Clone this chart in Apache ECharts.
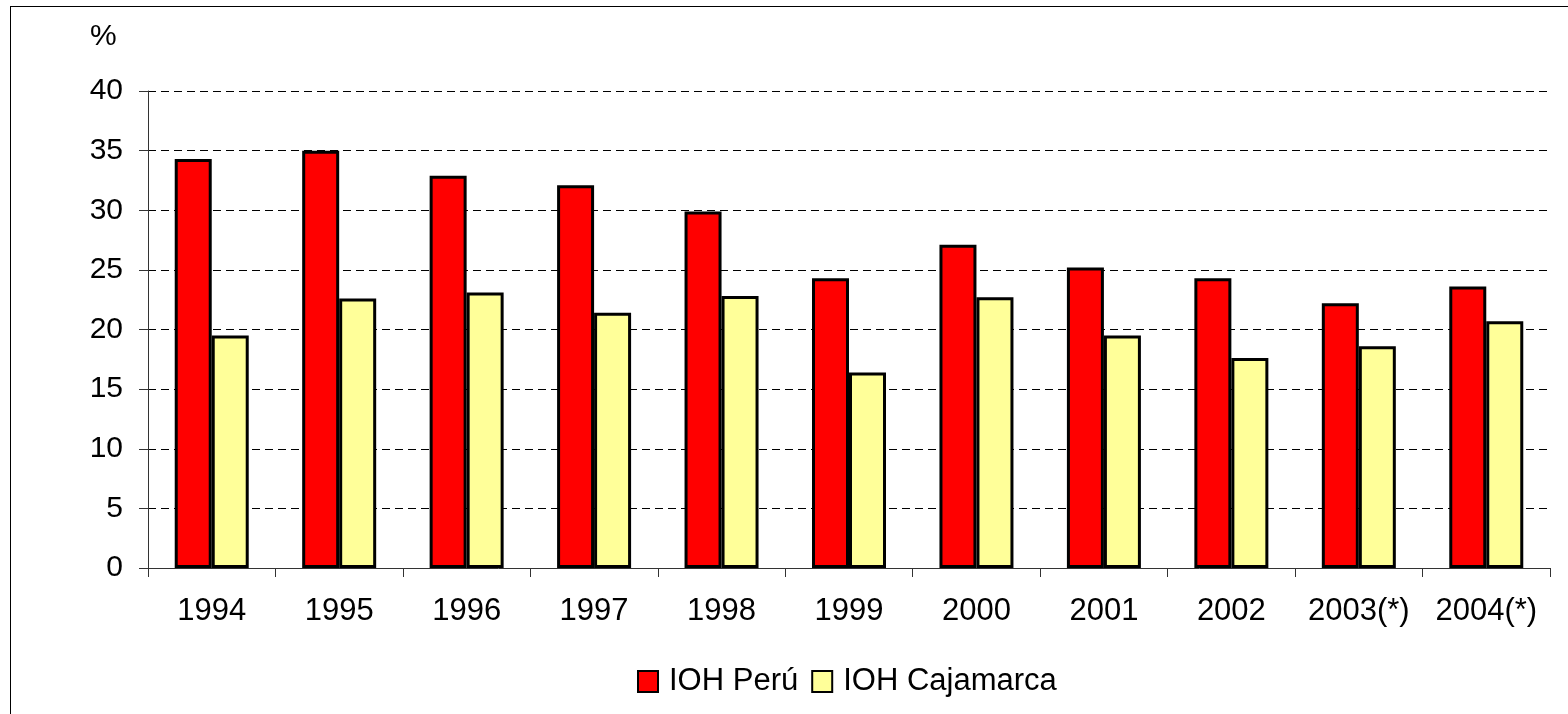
<!DOCTYPE html>
<html>
<head>
<meta charset="utf-8">
<script src="https://cdn.jsdelivr.net/npm/echarts@6/dist/echarts.min.js"></script>
<style>
    html, body { margin: 0; padding: 0; background: #fff; }
    #main { width: 1568px; height: 714px; position: relative; }
    /* marco del gráfico (solo borde izq. y superior visibles) */
    #frame { position: absolute; left: 10px; top: 6px; width: 1600px; height: 800px;
             border-left: 1px solid #000; border-top: 1px solid #000; pointer-events: none; }
</style>
</head>
<body>
<div id="main"></div>
<div id="frame"></div>
<script>
    /* datos */
    var years = ['1994', '1995', '1996', '1997', '1998', '1999', '2000', '2001', '2002', '2003(*)', '2004(*)'];
    var ohPeru = [34.3, 35.0, 32.9, 32.1, 29.9, 24.3, 27.1, 25.2, 24.3, 22.2, 23.6];
    var ohCajamarca = [19.5, 22.6, 23.1, 21.4, 22.8, 16.4, 22.7, 19.5, 17.6, 18.6, 20.7];
    var seriesNames = ['IOH Perú', 'IOH Cajamarca'];

    var font = 'Liberation Sans, Arial, sans-serif';
    var chart = echarts.init(document.getElementById('main'));

    var option = {
        animation: false,
        title: {
            text: '%',
            left: 85,
            top: 17,
            textStyle: { fontFamily: font, fontSize: 30, fontWeight: 'normal', color: '#000' }
        },
        legend: {
            data: seriesNames,
            icon: 'rect',
            left: 632,
            top: 661,
            itemWidth: 20,
            itemHeight: 21,
            itemGap: 13,
            textStyle: { fontFamily: font, fontSize: 31, color: '#000', padding: [0, 0, 0, 6] }
        },
        grid: {        // área de trazado
            left: 148,
            right: 18,
            top: 91,
            bottom: 146
        },
        xAxis: {
            type: 'category',
            data: years,
            axisLine: { lineStyle: { color: '#333', width: 1 } },
            axisTick: { show: true, interval: 0, length: 9, lineStyle: { color: '#333' } },
            axisLabel: { interval: 0, fontFamily: font, fontSize: 31, color: '#000', margin: 28 }
        },
        yAxis: {
            type: 'value',
            min: 0,
            max: 40,
            interval: 5,
            axisLine: { show: true, lineStyle: { color: '#333', width: 1 } },
            axisTick: { show: true, length: 9, lineStyle: { color: '#333' } },
            axisLabel: { fontFamily: font, fontSize: 30, color: '#000', margin: 25 },
            splitLine: { lineStyle: { color: '#000', type: [8, 5], width: 1 } }
        },
        series: [
            {
                name: seriesNames[0],
                type: 'bar',
                data: ohPeru,
                barWidth: 37,
                barGap: '0%',
                itemStyle: { color: '#ff0000', borderColor: '#000', borderWidth: 3 }
            },
            {
                name: seriesNames[1],
                type: 'bar',
                data: ohCajamarca,
                barWidth: 37,
                itemStyle: { color: '#ffff99', borderColor: '#000', borderWidth: 3 }
            }
        ]
    };
    chart.setOption(option);
</script>
</body>
</html>
